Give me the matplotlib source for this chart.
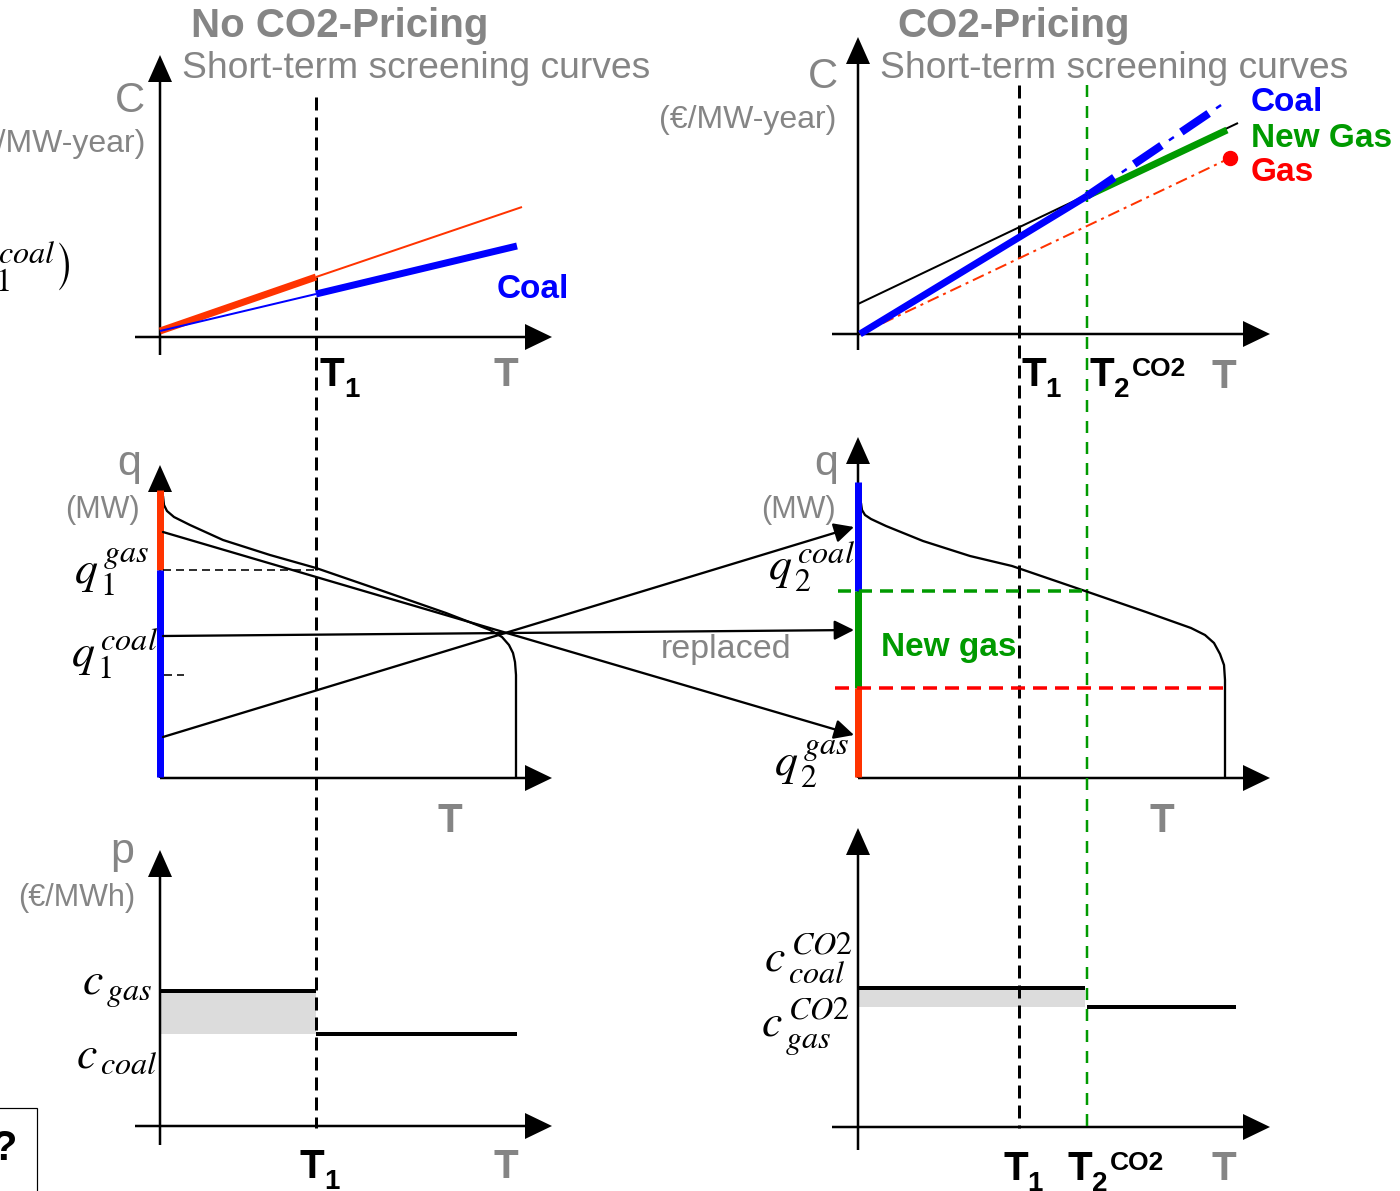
import matplotlib
matplotlib.use("Agg")
import matplotlib.pyplot as plt
from matplotlib.patches import Polygon, Rectangle

plt.rcParams['font.family'] = ['Liberation Sans', 'DejaVu Sans']
plt.rcParams['lines.scale_dashes'] = False
plt.rcParams['lines.solid_capstyle'] = 'butt'

PX = 0.72  # points per pixel at dpi 100
GRAY = '#858585'
RED = '#ff3300'
PURE_RED = '#ff0000'
BLUE = '#0000ff'
GREEN = '#009a00'
SHADE = '#dcdcdc'

# ---- schematic coordinates (canvas units, y grows downward) ----
# axes of the six panels: top-left, top-right, mid-left, mid-right, bottom-left, bottom-right
axis_x0 = [160, 858, 160, 858, 160, 858]
axis_y0 = [337, 334, 778, 778, 1126, 1127]
axis_x_start = [135, 832, 160, 858, 135, 832]
axis_x_tip = [552, 1270, 552, 1270, 552, 1270]
axis_y_bottom = [355, 350, 778, 778, 1145, 1150]
axis_y_tip = [55, 37, 465, 437, 850, 828]

# switching times
T1_left = 316
T1_right = 1019
T2_right = 1087

# screening curves without CO2 price (T, C)
gas_T = [160, 316, 522]
gas_C = [331, 277, 207]
coal_T = [160, 316, 517]
coal_C = [331, 294, 246]

# screening curves with CO2 price
coal_co2_T = [860, 1087, 1227]
coal_co2_C = [334, 196, 101]
newgas_T = [1087, 1227]
newgas_C = [196, 130]
oldgas_T = [858, 1238]
oldgas_C = [304, 123]
gas_co2_T = [860, 1230]
gas_co2_C = [334, 158]

# load duration curves
ldc1_T = [163, 164, 167, 174, 190, 223, 270, 316, 380, 446, 490, 502, 509, 513, 515, 516, 516]
ldc1_q = [496, 505, 511, 517, 525, 540, 555, 568, 590, 613, 630, 637, 645, 653, 662, 675, 778]
ldc2_T = [861, 862, 865, 871, 886, 923, 970, 1012, 1088, 1146, 1191, 1205, 1214, 1220, 1224, 1225, 1225]
ldc2_q = [503, 510, 515, 519, 526, 541, 556, 566, 592, 612, 628, 635, 643, 654, 665, 680, 778]

# capacity stacks on the q axis (top, bottom)
stack1 = [(490, 570, RED), (570, 777, BLUE)]
stack2 = [(482, 591, BLUE), (591, 688, GREEN), (688, 777, RED)]
q1_gas_level = 570
q1_coal_tick = 675
q2_coal_level = 591
q2_gas_level = 688

# capacity transfer arrows (start, end)
transfer = [((163, 532), (854, 735)),
            ((163, 636), (854, 630)),
            ((163, 737), (854, 527))]

# price duration steps
price1_T = [160, 316, 517]
price1_p = [991, 1034]
price2_T = [858, 1085, 1236]
price2_p = [988, 1007]

fig = plt.figure(figsize=(14, 11.91), dpi=100)
ax = fig.add_axes([0, 0, 1, 1])
ax.set_xlim(0, 1400)
ax.set_ylim(1191, 0)
ax.axis('off')


def draw_axes(x0, y0, xs, xt, yb, yt):
    ax.plot([xs, xt - 20], [y0, y0], color='k', lw=2.5 * PX)
    ax.plot([x0, x0], [yb, yt + 20], color='k', lw=2.5 * PX)
    ax.add_patch(Polygon([(xt, y0), (xt - 27, y0 - 13), (xt - 27, y0 + 13)],
                         closed=True, color='k', lw=0))
    ax.add_patch(Polygon([(x0, yt), (x0 - 12, yt + 27), (x0 + 12, yt + 27)],
                         closed=True, color='k', lw=0))


for i in range(6):
    draw_axes(axis_x0[i], axis_y0[i], axis_x_start[i], axis_x_tip[i],
              axis_y_bottom[i], axis_y_tip[i])

# vertical guides through all rows
ax.plot([T1_left, T1_left], [97, 1128], color='k', lw=3 * PX, ls=(0, (13 * PX, 7 * PX)))
ax.plot([T1_right, T1_right], [85, 1128], color='k', lw=3 * PX, ls=(0, (13 * PX, 7 * PX)))
ax.plot([T2_right, T2_right], [85, 1128], color=GREEN, lw=2.5 * PX, ls=(0, (12 * PX, 9 * PX)))

# ---- top left: screening curves ----
ax.plot(gas_T[1:], gas_C[1:], color=RED, lw=2 * PX)
ax.plot(gas_T[:2], gas_C[:2], color=RED, lw=7 * PX)
ax.plot(coal_T[:2], coal_C[:2], color=BLUE, lw=2 * PX)
ax.plot(coal_T[1:], coal_C[1:], color=BLUE, lw=7 * PX)

# ---- top right: screening curves with CO2 ----
ax.plot(oldgas_T, oldgas_C, color='k', lw=2 * PX)
ax.plot(gas_co2_T, gas_co2_C, color=RED, lw=2 * PX,
        ls=(0, (12 * PX, 5 * PX, 3 * PX, 5 * PX)))
ax.plot(gas_co2_T[-1], gas_co2_C[-1], 'o', color=PURE_RED, ms=14 * PX)
ax.plot(newgas_T, newgas_C, color=GREEN, lw=7 * PX)
ax.plot(coal_co2_T[:2], coal_co2_C[:2], color=BLUE, lw=7 * PX)
ax.plot(coal_co2_T[1:], coal_co2_C[1:], color=BLUE, lw=2.5 * PX,
        ls=(15 * PX, (6 * PX, 51 * PX)))
ax.plot(coal_co2_T[1:], coal_co2_C[1:], color=BLUE, lw=8 * PX,
        ls=(0, (33 * PX, 24 * PX)))

# ---- middle left: load duration curve ----
ax.plot(ldc1_T, ldc1_q, color='k', lw=2.3 * PX)
for top, bot, col in stack1:
    ax.plot([160, 160], [top, bot], color=col, lw=7 * PX)
ax.plot([163, T1_left], [q1_gas_level, q1_gas_level], color='k', lw=1.6 * PX,
        ls=(0, (8 * PX, 5 * PX)))
ax.plot([164, 184], [q1_coal_tick, q1_coal_tick], color='k', lw=1.6 * PX,
        ls=(0, (8 * PX, 5 * PX)))

# ---- middle right ----
ax.plot(ldc2_T, ldc2_q, color='k', lw=2.3 * PX)
for top, bot, col in stack2:
    ax.plot([858, 858], [top, bot], color=col, lw=7 * PX)
ax.plot([838, 1087], [q2_coal_level, q2_coal_level], color=GREEN, lw=3.5 * PX,
        ls=(0, (13 * PX, 8 * PX)))
ax.plot([835, 1230], [q2_gas_level, q2_gas_level], color=PURE_RED, lw=3.5 * PX,
        ls=(0, (14 * PX, 8 * PX)))

for start, end in transfer:
    ax.annotate('', xy=end, xytext=start,
                arrowprops=dict(arrowstyle='-|>,head_length=0.6,head_width=0.3',
                                color='k', lw=2.3 * PX, mutation_scale=20,
                                shrinkA=0, shrinkB=0))

# ---- bottom: price duration curves ----
ax.fill_between(price1_T[:2], price1_p[0], price1_p[1], color=SHADE, lw=0)
ax.fill_between(price2_T[:2], price2_p[0], price2_p[1], color=SHADE, lw=0)
ax.plot(price1_T[:2], [price1_p[0]] * 2, color='k', lw=4 * PX)
ax.plot(price1_T[1:], [price1_p[1]] * 2, color='k', lw=4 * PX)
ax.plot(price2_T[:2], [price2_p[0]] * 2, color='k', lw=4 * PX)
ax.plot([T2_right, price2_T[2]], [price2_p[1]] * 2, color='k', lw=4 * PX)

# box at lower left
ax.add_patch(Rectangle((-10, 1108), 47, 100, fill=False, ec='k', lw=1.2 * PX))
ax.text(16, 1160, '?', fontsize=30, weight='bold', ha='right', va='baseline')

# ---- texts ----
ax.text(340, 37, 'No CO2-Pricing', fontsize=29, weight='bold', color=GRAY,
        ha='center', va='baseline')
ax.text(1014, 37, 'CO2-Pricing', fontsize=29, weight='bold', color=GRAY,
        ha='center', va='baseline')
ax.text(182, 78, 'Short-term screening curves', fontsize=26.8, color=GRAY,
        ha='left', va='baseline')
ax.text(880, 78, 'Short-term screening curves', fontsize=26.8, color=GRAY,
        ha='left', va='baseline')

ax.text(145, 112, 'C', fontsize=30, color=GRAY, ha='right', va='baseline')
ax.text(145, 152, '(€/MW-year)', fontsize=23, color=GRAY, ha='right', va='baseline')
ax.text(838, 88, 'C', fontsize=30, color=GRAY, ha='right', va='baseline')
ax.text(836, 128, '(€/MW-year)', fontsize=23, color=GRAY, ha='right', va='baseline')
ax.text(70, 268, r'$\left(q_{\,1}^{\,coal}\right)$', fontsize=33, math_fontfamily='stix',
        ha='right', va='center')

ax.text(141, 475, 'q', fontsize=31, color=GRAY, ha='right', va='baseline')
ax.text(140, 518, '(MW)', fontsize=22, color=GRAY, ha='right', va='baseline')
ax.text(838, 475, 'q', fontsize=31, color=GRAY, ha='right', va='baseline')
ax.text(836, 518, '(MW)', fontsize=22, color=GRAY, ha='right', va='baseline')
ax.text(134, 863, 'p', fontsize=31, color=GRAY, ha='right', va='baseline')
ax.text(135, 906, '(€/MWh)', fontsize=22, color=GRAY, ha='right', va='baseline')

ax.text(497, 298, 'Coal', fontsize=24, weight='bold', color=BLUE, va='baseline')
ax.text(1251, 111, 'Coal', fontsize=24, weight='bold', color=BLUE, va='baseline')
ax.text(1251, 147, 'New Gas', fontsize=24, weight='bold', color=GREEN, va='baseline')
ax.text(1251, 181, 'Gas', fontsize=24, weight='bold', color=PURE_RED, va='baseline')
ax.text(881, 656, 'New gas', fontsize=24, weight='bold', color=GREEN, va='baseline')
ax.text(661, 658, 'replaced', fontsize=24.5, color=GRAY, va='baseline')

math_kw = dict(fontsize=33, math_fontfamily='stix', ha='right', va='center')
ax.text(150, 572, r'$q_{\,1}^{\,gas}$', **math_kw)
ax.text(158, 655, r'$q_{\,1}^{\,coal}$', **math_kw)
ax.text(855, 568, r'$q_{\,2}^{\,coal}$', **math_kw)
ax.text(850, 764, r'$q_{\,2}^{\,gas}$', **math_kw)
ax.text(152, 988, r'$c_{\,gas}$', **math_kw)
ax.text(158, 1056, r'$c_{\,coal}$', **math_kw)
ax.text(853, 958, r'$c_{\,coal}^{\,CO2}$', **math_kw)
ax.text(850, 1027, r'$c_{\,gas}^{\,CO2}$', **math_kw)


def t_label(x, y, sub, sup=None, color='k'):
    ax.text(x, y, 'T', fontsize=29, weight='bold', color=color, va='baseline')
    if sub:
        ax.text(x + 24, y + 11, sub, fontsize=20, weight='bold', color=color, va='baseline')
    if sup:
        ax.text(x + 42, y - 10, sup, fontsize=19, weight='bold', color=color, va='baseline')


t_label(320, 386, '1')
t_label(494, 386, None, color=GRAY)
t_label(1021, 386, '1')
t_label(1090, 386, '2', 'CO2')
t_label(1211, 388, None, color=GRAY)
t_label(437, 832, None, color=GRAY)
t_label(1150, 832, None, color=GRAY)
t_label(300, 1178, '1')
t_label(493, 1178, None, color=GRAY)
t_label(1003, 1180, '1')
t_label(1068, 1180, '2', 'CO2')
t_label(1211, 1180, None, color=GRAY)

fig.savefig('out.png', dpi=100)
